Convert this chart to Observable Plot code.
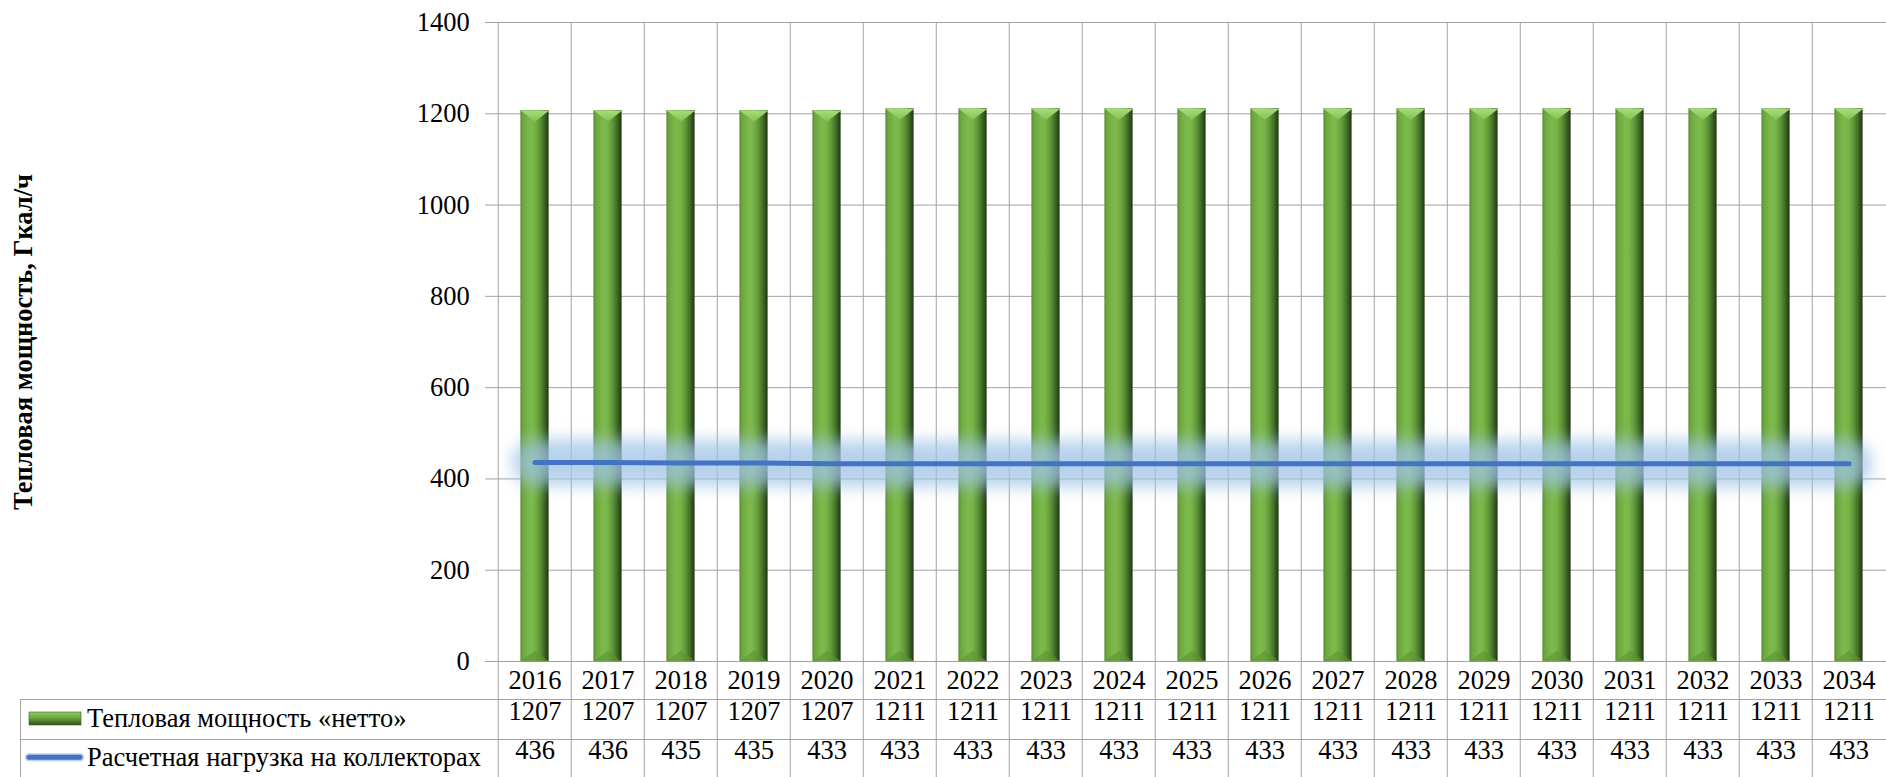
<!DOCTYPE html>
<html>
<head>
<meta charset="utf-8">
<script src="https://cdn.jsdelivr.net/npm/d3@7"></script>
<script src="https://cdn.jsdelivr.net/npm/@observablehq/plot@0.6"></script>
<style>
  html, body { margin: 0; padding: 0; background: #fff; }
  #chart svg { display: block; }
</style>
</head>
<body>
<div id="chart"></div>
<script>
// Years of the forecast period
const years = ["2016", "2017", "2018", "2019", "2020", "2021", "2022", "2023", "2024", "2025",
               "2026", "2027", "2028", "2029", "2030", "2031", "2032", "2033", "2034"];
// Net heat capacity, Gcal/h
const nettoCapacity = [1207, 1207, 1207, 1207, 1207, 1211, 1211, 1211, 1211, 1211,
                       1211, 1211, 1211, 1211, 1211, 1211, 1211, 1211, 1211];
// Design load on the collectors, Gcal/h
const designLoad = [436, 436, 435, 435, 433, 433, 433, 433, 433, 433,
                    433, 433, 433, 433, 433, 433, 433, 433, 433];
const yTicks = [0, 200, 400, 600, 800, 1000, 1200, 1400];
const seriesLabels = ["Тепловая мощность «нетто»", "Расчетная нагрузка на коллекторах"];
const axisTitle = "Тепловая мощность, Гкал/ч";

const rows = years.map((year, i) => ({year, netto: nettoCapacity[i], load: designLoad[i]}));

// Layout
const W = 1886, H = 777;
const plotLeft = 493, plotTop = 22, plotBase = 661;
const xRight = 1889.5;
const step = (xRight - plotLeft) / years.length;
const barInset = 22.4;
const hw = step / 2 - barInset;
const grid = "#a3a3a3";
const font = "'Liberation Serif', 'Times New Roman', serif";
const fs = 26.5;

// Bevel shapes at the top and bottom of each column
const bevelTop = {draw(ctx) { ctx.moveTo(-hw, 0); ctx.lineTo(hw, 0); ctx.lineTo(0, 11); ctx.closePath(); }};
const bevelBottom = {draw(ctx) { ctx.moveTo(-hw, 0); ctx.lineTo(hw, 0); ctx.lineTo(0, -11); ctx.closePath(); }};

const chart = Plot.plot({
  width: W,
  height: H,
  marginTop: plotTop,
  marginRight: 0,
  marginBottom: H - plotBase,
  marginLeft: plotLeft,
  style: {fontFamily: font, fontSize: fs + "px", color: "#000", background: "#fff", overflow: "visible"},
  x: {type: "band", domain: years, range: [plotLeft, xRight], padding: 0},
  y: {domain: [0, 1400]},
  marks: [
    Plot.gridY(yTicks, {stroke: grid, strokeOpacity: 1}),
    Plot.ruleX(years, {dx: -step / 2, stroke: grid, insetBottom: -(H - plotBase)}),
    Plot.barY(rows, {x: "year", y: "netto", fill: "url(#barGradient)", insetLeft: barInset, insetRight: barInset}),
    Plot.dot(rows, {x: "year", y: "netto", symbol: bevelTop, fill: "url(#bevelTopGradient)", r: 1}),
    Plot.dot(rows, {x: "year", y: () => 0, symbol: bevelBottom, fill: "#5b9236", fillOpacity: 0.6, r: 1}),
    Plot.line(rows, {x: "year", y: "load", stroke: "#9dc3e6", strokeWidth: 46, strokeOpacity: 0.75,
                     strokeLinecap: "round", className: "load-glow"}),
    Plot.line(rows, {x: "year", y: "load", stroke: "#4472c4", strokeWidth: 5, strokeLinecap: "round"}),
    Plot.axisY(yTicks, {tickSize: 8, tickPadding: 15.7, stroke: grid, label: null, fontSize: fs,
                        tickFormat: d => String(d)}),
    Plot.axisX({tickSize: 0, tickPadding: 8.5, label: null, fontSize: fs}),
    Plot.ruleY([0], {dy: 38, insetLeft: 20 - plotLeft, stroke: grid}),
    Plot.ruleY([0], {dy: 78, insetLeft: 20 - plotLeft, stroke: grid}),
    Plot.text(rows, {x: "year", text: d => String(d.netto), frameAnchor: "bottom", dy: 58.8, fontSize: fs}),
    Plot.text(rows, {x: "year", text: d => String(d.load), frameAnchor: "bottom", dy: 97.4, fontSize: fs}),
    Plot.text([axisTitle], {frameAnchor: "left", textAnchor: "middle", dx: 23 - plotLeft, rotate: -90,
                            fontWeight: "bold", fontSize: fs})
  ]
});

const svg = d3.select(chart);
const defs = svg.insert("defs", ":first-child");

function gradient(id, vertical, stops) {
  const g = defs.append("linearGradient").attr("id", id)
    .attr("x1", 0).attr("y1", 0).attr("x2", vertical ? 0 : 1).attr("y2", vertical ? 1 : 0);
  stops.forEach(([o, c]) => g.append("stop").attr("offset", o).attr("stop-color", c));
}
gradient("barGradient", false, [[0, "#5a8b34"], [0.1, "#6ea83f"], [0.35, "#7dba4c"], [0.5, "#78b447"],
                                [0.68, "#5f9639"], [0.85, "#3e6825"], [1, "#1f3512"]]);
gradient("bevelTopGradient", true, [[0, "#a6dc78"], [1, "#84c254"]]);
gradient("keyGradient", true, [[0, "#8fcc5c"], [0.45, "#6aa63e"], [1, "#2f5019"]]);

defs.append("filter").attr("id", "glowBlur")
  .attr("filterUnits", "userSpaceOnUse").attr("x", 0).attr("y", 0).attr("width", W).attr("height", H)
  .append("feGaussianBlur").attr("stdDeviation", 8);
svg.selectAll(".load-glow, g[stroke-width='46']").attr("filter", "url(#glowBlur)");

// Series legend in the first column of the data table
const lg = svg.append("g").attr("text-anchor", "start");
lg.append("line").attr("x1", 20.5).attr("x2", 20.5).attr("y1", plotBase + 38).attr("y2", H)
  .attr("stroke", grid);
lg.append("rect").attr("x", 29).attr("y", 712).attr("width", 52).attr("height", 13)
  .attr("fill", "url(#keyGradient)").attr("stroke", "#3d6324").attr("stroke-width", 0.6);
lg.append("line").attr("x1", 29).attr("x2", 80).attr("y1", 757.3).attr("y2", 757.3)
  .attr("stroke", "#b8d0ea").attr("stroke-width", 8).attr("stroke-linecap", "round");
lg.append("line").attr("x1", 29).attr("x2", 80).attr("y1", 757.3).attr("y2", 757.3)
  .attr("stroke", "#4472c4").attr("stroke-width", 5).attr("stroke-linecap", "round");
lg.selectAll("text.series").data(seriesLabels).join("text")
  .attr("class", "series")
  .attr("x", 87).attr("y", (d, i) => i === 0 ? 727.3 : 765.7)
  .attr("font-size", fs).attr("font-family", font).attr("fill", "#000")
  .text(d => d);

document.getElementById("chart").appendChild(chart);
</script>
</body>
</html>
